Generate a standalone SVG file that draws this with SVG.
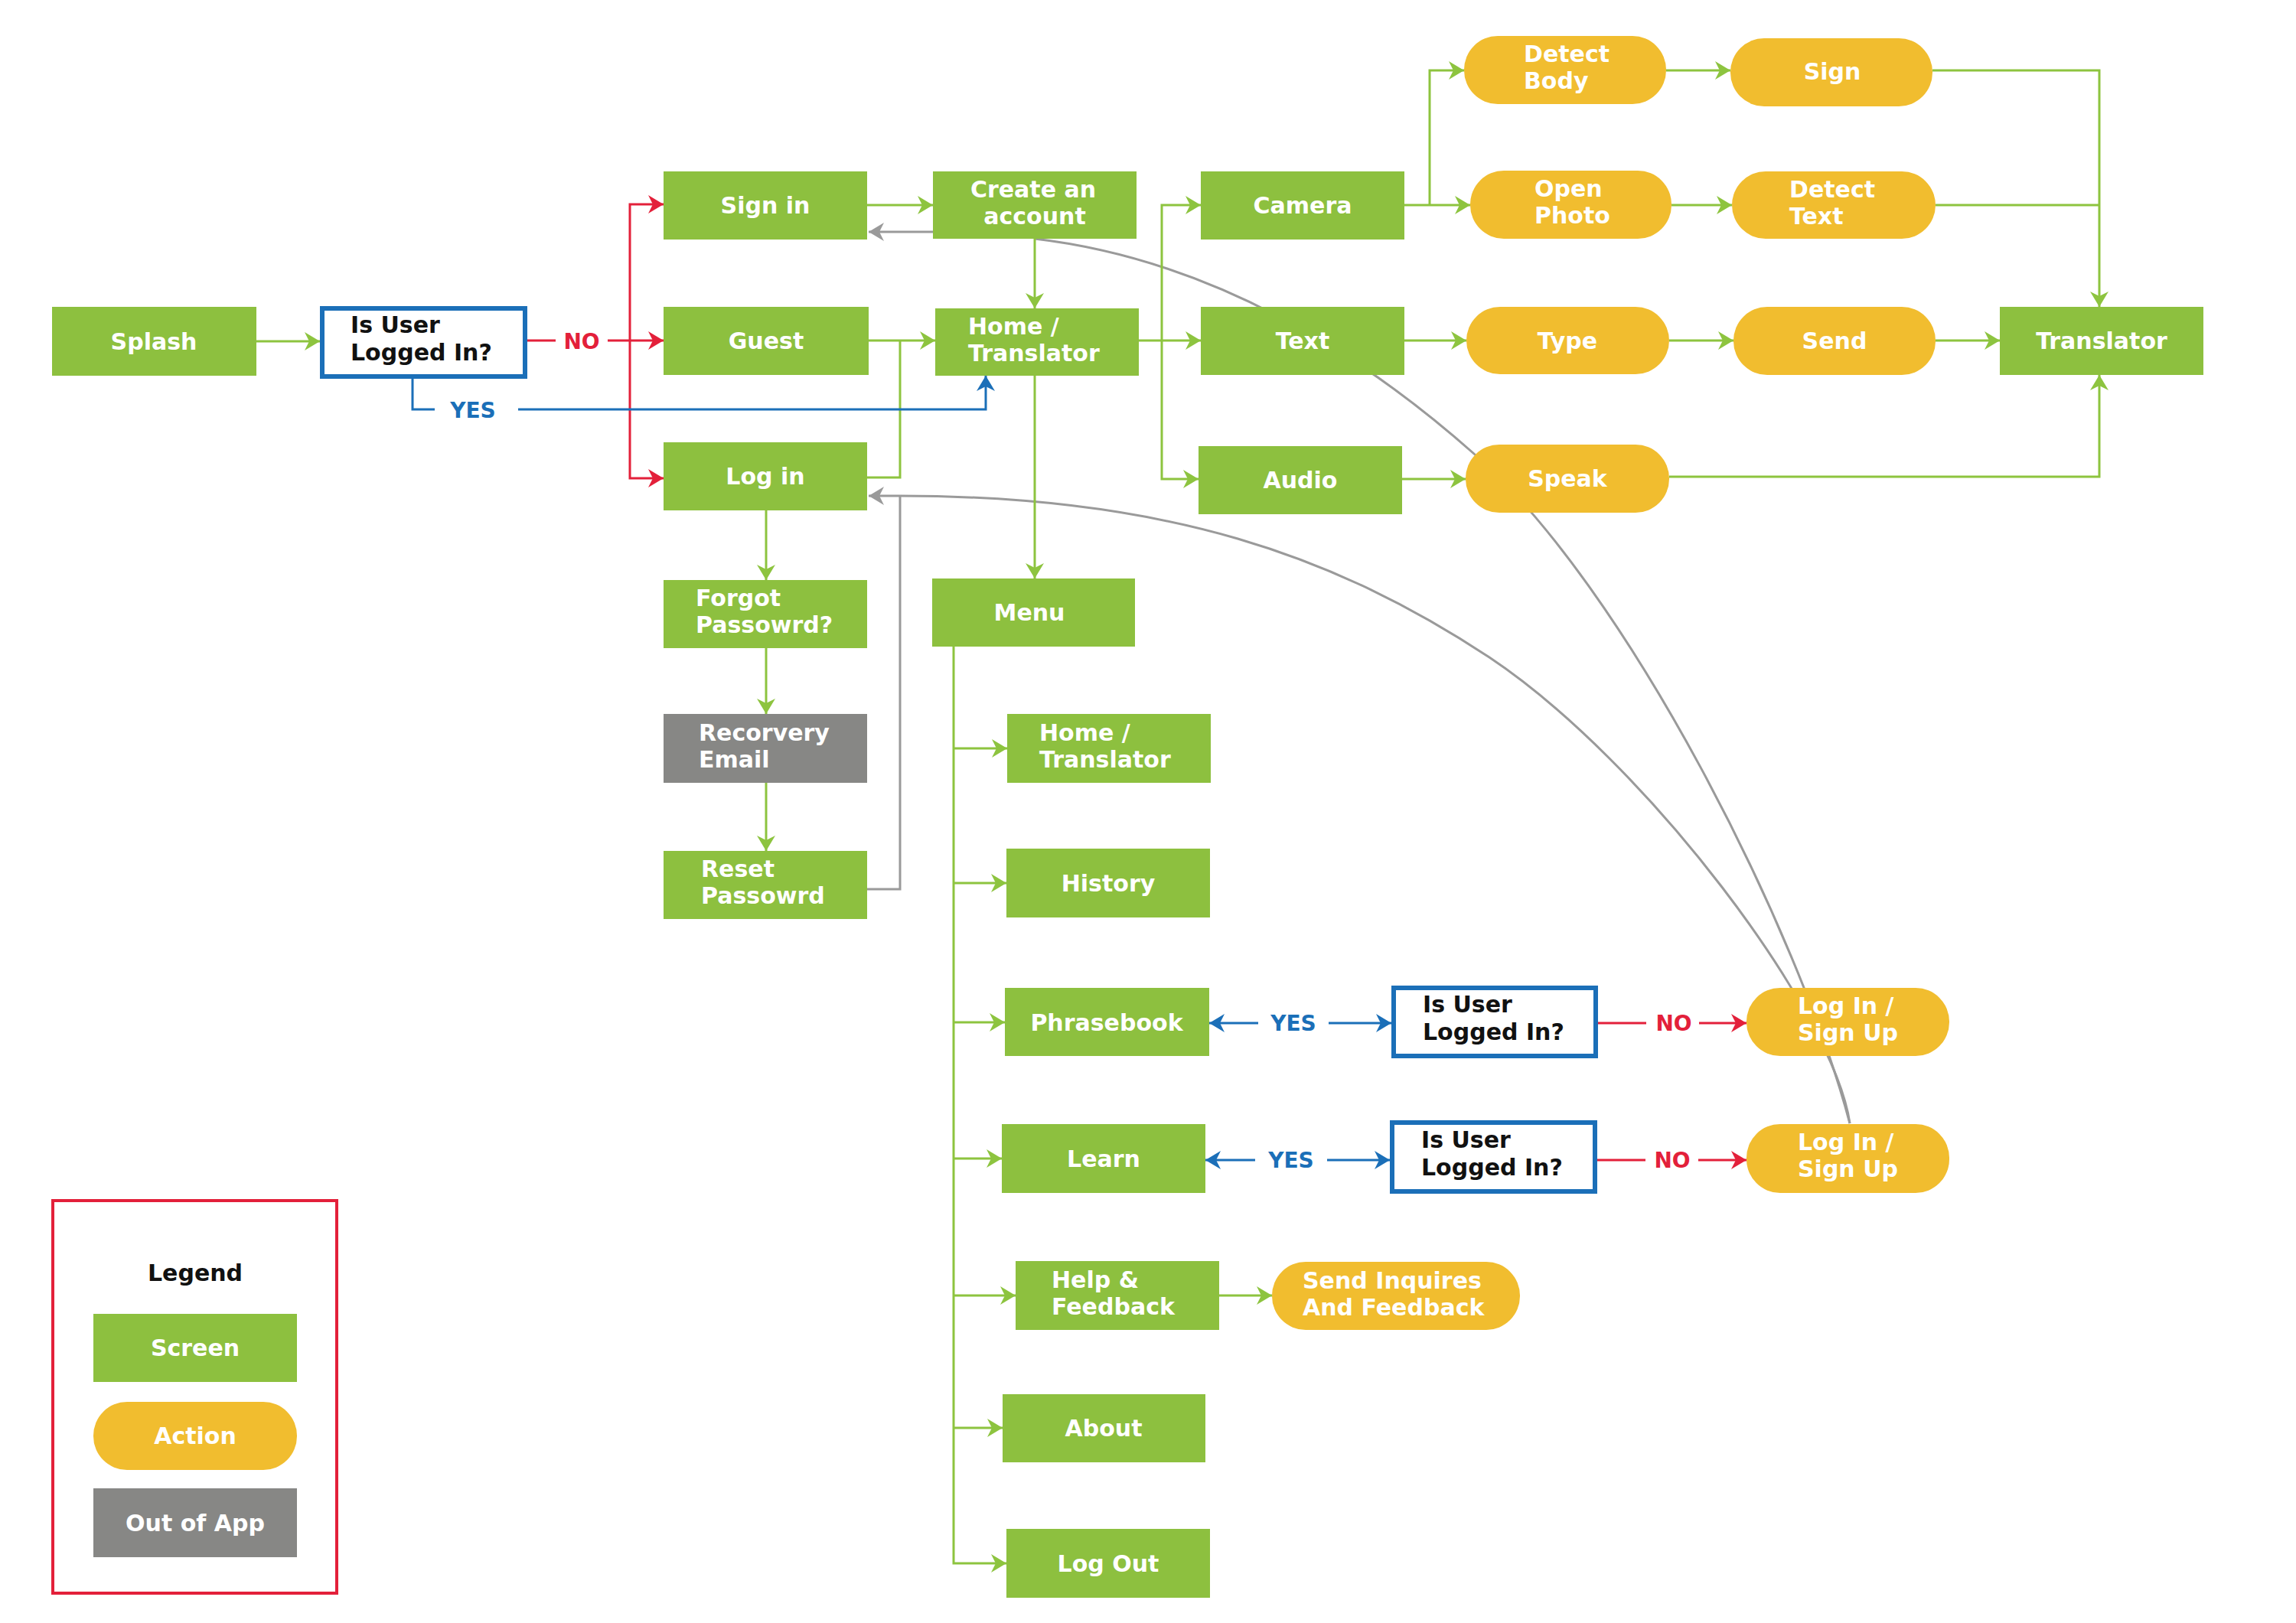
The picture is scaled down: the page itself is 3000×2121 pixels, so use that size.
<svg xmlns="http://www.w3.org/2000/svg" width="3000" height="2121" viewBox="0 0 3000 2121">
<style>
.scr{fill:#8dc03f}
.act{fill:#f1bd2f}
.out{fill:#878785}
.dec{fill:#fff;stroke:#1b6fb8;stroke-width:6}
.t{font-family:"DejaVu Sans","Liberation Sans",sans-serif;font-weight:bold;font-size:30px;fill:#fff}
.m{text-anchor:middle}
.dk{fill:#111}
.lab{font-family:"DejaVu Sans","Liberation Sans",sans-serif;font-weight:bold;font-size:28px;text-anchor:middle}
.g{fill:none;stroke:#8dc43f;stroke-width:3}
.r{fill:none;stroke:#e3203a;stroke-width:3}
.b{fill:none;stroke:#1b6fb8;stroke-width:3}
.y{fill:none;stroke:#9a9a9a;stroke-width:3}
</style>
<defs>
<marker id="ag" markerUnits="userSpaceOnUse" markerWidth="22" markerHeight="24" refX="20" refY="12" orient="auto"><path d="M0,0 L20,12 L0,24 L6,12 Z" fill="#8dc43f"/></marker>
<marker id="ar" markerUnits="userSpaceOnUse" markerWidth="22" markerHeight="24" refX="20" refY="12" orient="auto"><path d="M0,0 L20,12 L0,24 L6,12 Z" fill="#e3203a"/></marker>
<marker id="ab" markerUnits="userSpaceOnUse" markerWidth="22" markerHeight="24" refX="20" refY="12" orient="auto"><path d="M0,0 L20,12 L0,24 L6,12 Z" fill="#1b6fb8"/></marker>
<marker id="ay" markerUnits="userSpaceOnUse" markerWidth="22" markerHeight="24" refX="20" refY="12" orient="auto"><path d="M0,0 L20,12 L0,24 L6,12 Z" fill="#9a9a9a"/></marker>
</defs>
<rect width="3000" height="2121" fill="#fff"/>

<g id="connectors">
<path class="y" d="M1219,303 H1135" marker-end="url(#ay)"/>
<path class="y" d="M1352,312 C1582,339 1776,460 1926,593 C2126,769 2350,1215 2417,1468"/>
<path class="y" d="M2417,1468 C2395,1320 2150,995 1946,859 C1746,727 1526,648 1176,648 H1135" marker-end="url(#ay)"/>
<path class="y" d="M1133,1162 H1176 V648"/>

<path class="g" d="M335,446 H418" marker-end="url(#ag)"/>
<path class="g" d="M1133,268 H1219" marker-end="url(#ag)"/>
<path class="g" d="M1352,312 V403" marker-end="url(#ag)"/>
<path class="g" d="M1135,445 H1222" marker-end="url(#ag)"/>
<path class="g" d="M1133,624 H1176 V445"/>
<path class="g" d="M1488,445 H1569" marker-end="url(#ag)"/>
<path class="g" d="M1518,445 V268 H1569" marker-end="url(#ag)"/>
<path class="g" d="M1518,445 V626 H1566" marker-end="url(#ag)"/>
<path class="g" d="M1835,268 H1921" marker-end="url(#ag)"/>
<path class="g" d="M1868,268 V92 H1913" marker-end="url(#ag)"/>
<path class="g" d="M2177,92 H2261" marker-end="url(#ag)"/>
<path class="g" d="M2184,268 H2263" marker-end="url(#ag)"/>
<path class="g" d="M2525,92 H2743 V401" marker-end="url(#ag)"/>
<path class="g" d="M2529,268 H2743"/>
<path class="g" d="M1835,445 H1916" marker-end="url(#ag)"/>
<path class="g" d="M2181,445 H2265" marker-end="url(#ag)"/>
<path class="g" d="M2529,445 H2613" marker-end="url(#ag)"/>
<path class="g" d="M1832,626 H1915" marker-end="url(#ag)"/>
<path class="g" d="M2181,623 H2743 V490" marker-end="url(#ag)"/>
<path class="g" d="M1352,491 V756" marker-end="url(#ag)"/>
<path class="g" d="M1001,667 V758" marker-end="url(#ag)"/>
<path class="g" d="M1001,847 V933" marker-end="url(#ag)"/>
<path class="g" d="M1001,1023 V1112" marker-end="url(#ag)"/>
<path class="g" d="M1246,845 V2043 H1315" marker-end="url(#ag)"/>
<path class="g" d="M1246,978 H1316" marker-end="url(#ag)"/>
<path class="g" d="M1246,1154 H1315" marker-end="url(#ag)"/>
<path class="g" d="M1246,1336 H1313" marker-end="url(#ag)"/>
<path class="g" d="M1246,1514 H1309" marker-end="url(#ag)"/>
<path class="g" d="M1246,1693 H1327" marker-end="url(#ag)"/>
<path class="g" d="M1246,1866 H1310" marker-end="url(#ag)"/>
<path class="g" d="M1593,1693 H1662" marker-end="url(#ag)"/>

<path class="r" d="M689,445 H726"/>
<path class="r" d="M794,445 H867" marker-end="url(#ar)"/>
<path class="r" d="M823,445 V267 H867" marker-end="url(#ar)"/>
<path class="r" d="M823,445 V625 H867" marker-end="url(#ar)"/>
<path class="r" d="M2088,1337 H2151"/>
<path class="r" d="M2220,1337 H2282" marker-end="url(#ar)"/>
<path class="r" d="M2087,1516 H2150"/>
<path class="r" d="M2219,1516 H2282" marker-end="url(#ar)"/>

<path class="b" d="M539,495 V535 H568"/>
<path class="b" d="M677,535 H1288 V491" marker-end="url(#ab)"/>
<path class="b" d="M1644,1337 H1580" marker-end="url(#ab)"/>
<path class="b" d="M1736,1337 H1818" marker-end="url(#ab)"/>
<path class="b" d="M1640,1516 H1575" marker-end="url(#ab)"/>
<path class="b" d="M1734,1516 H1816" marker-end="url(#ab)"/>

<text class="lab" x="760" y="456" fill="#e3203a">NO</text>
<text class="lab" x="618" y="546" fill="#1b6fb8">YES</text>
<text class="lab" x="1690" y="1347" fill="#1b6fb8">YES</text>
<text class="lab" x="2187" y="1347" fill="#e3203a">NO</text>
<text class="lab" x="1687" y="1526" fill="#1b6fb8">YES</text>
<text class="lab" x="2185" y="1526" fill="#e3203a">NO</text>
</g>

<g id="splash"><rect class="scr" x="68" y="401" width="267" height="90"/><text class="t m" x="201" y="457">Splash</text></g>
<g id="decision1"><rect class="dec" x="421" y="403" width="265" height="89"/><text class="t dk" x="458" y="435">Is User</text><text class="t dk" x="458" y="471">Logged In?</text></g>
<g id="signin"><rect class="scr" x="867" y="224" width="266" height="89"/><text class="t m" x="1000" y="279">Sign in</text></g>
<g id="guest"><rect class="scr" x="867" y="401" width="268" height="89"/><text class="t m" x="1001" y="456">Guest</text></g>
<g id="login"><rect class="scr" x="867" y="578" width="266" height="89"/><text class="t m" x="1000" y="633">Log in</text></g>
<g id="forgot"><rect class="scr" x="867" y="758" width="266" height="89"/><text class="t" x="909" y="792">Forgot</text><text class="t" x="909" y="827">Passowrd?</text></g>
<g id="recovery"><rect class="out" x="867" y="933" width="266" height="90"/><text class="t" x="913" y="968">Recorvery</text><text class="t" x="913" y="1003">Email</text></g>
<g id="reset"><rect class="scr" x="867" y="1112" width="266" height="89"/><text class="t" x="916" y="1146">Reset</text><text class="t" x="916" y="1181">Passowrd</text></g>
<g id="create"><rect class="scr" x="1219" y="224" width="266" height="88"/><text class="t m" x="1350" y="258">Create an</text><text class="t m" x="1352" y="293">account</text></g>
<g id="home1"><rect class="scr" x="1222" y="403" width="266" height="88"/><text class="t" x="1265" y="437">Home /</text><text class="t" x="1265" y="472">Translator</text></g>
<g id="menu"><rect class="scr" x="1218" y="756" width="265" height="89"/><text class="t m" x="1345" y="811">Menu</text></g>
<g id="camera"><rect class="scr" x="1569" y="224" width="266" height="89"/><text class="t m" x="1702" y="279">Camera</text></g>
<g id="text"><rect class="scr" x="1569" y="401" width="266" height="89"/><text class="t m" x="1702" y="456">Text</text></g>
<g id="audio"><rect class="scr" x="1566" y="583" width="266" height="89"/><text class="t m" x="1699" y="638">Audio</text></g>
<g id="translator"><rect class="scr" x="2613" y="401" width="266" height="89"/><text class="t m" x="2746" y="456">Translator</text></g>
<g id="home2"><rect class="scr" x="1316" y="933" width="266" height="90"/><text class="t" x="1358" y="968">Home /</text><text class="t" x="1358" y="1003">Translator</text></g>
<g id="history"><rect class="scr" x="1315" y="1109" width="266" height="90"/><text class="t m" x="1448" y="1165">History</text></g>
<g id="phrasebook"><rect class="scr" x="1313" y="1291" width="267" height="89"/><text class="t m" x="1446" y="1347">Phrasebook</text></g>
<g id="learn"><rect class="scr" x="1309" y="1469" width="266" height="90"/><text class="t m" x="1442" y="1525">Learn</text></g>
<g id="help"><rect class="scr" x="1327" y="1648" width="266" height="90"/><text class="t" x="1374" y="1683">Help &amp;</text><text class="t" x="1374" y="1718">Feedback</text></g>
<g id="about"><rect class="scr" x="1310" y="1822" width="265" height="89"/><text class="t m" x="1442" y="1877">About</text></g>
<g id="logout"><rect class="scr" x="1315" y="1998" width="266" height="90"/><text class="t m" x="1448" y="2054">Log Out</text></g>

<g id="detectbody"><rect class="act" x="1913" y="47" width="264" height="89" rx="44"/><text class="t" x="1991" y="81">Detect</text><text class="t" x="1991" y="116">Body</text></g>
<g id="sign"><rect class="act" x="2261" y="50" width="264" height="89" rx="44"/><text class="t m" x="2394" y="104">Sign</text></g>
<g id="openphoto"><rect class="act" x="1921" y="223" width="263" height="89" rx="44"/><text class="t" x="2005" y="257">Open</text><text class="t" x="2005" y="292">Photo</text></g>
<g id="detecttext"><rect class="act" x="2263" y="224" width="266" height="88" rx="44"/><text class="t" x="2338" y="258">Detect</text><text class="t" x="2338" y="293">Text</text></g>
<g id="type"><rect class="act" x="1916" y="401" width="265" height="88" rx="44"/><text class="t m" x="2048" y="456">Type</text></g>
<g id="send"><rect class="act" x="2265" y="401" width="264" height="89" rx="44"/><text class="t m" x="2397" y="456">Send</text></g>
<g id="speak"><rect class="act" x="1915" y="581" width="266" height="89" rx="44"/><text class="t m" x="2048" y="636">Speak</text></g>

<g id="decision2"><rect class="dec" x="1821" y="1291" width="264" height="89"/><text class="t dk" x="1859" y="1323">Is User</text><text class="t dk" x="1859" y="1359">Logged In?</text></g>
<g id="decision3"><rect class="dec" x="1819" y="1467" width="265" height="90"/><text class="t dk" x="1857" y="1500">Is User</text><text class="t dk" x="1857" y="1536">Logged In?</text></g>
<g id="loginsignup1"><rect class="act" x="2282" y="1291" width="265" height="89" rx="44"/><text class="t" x="2349" y="1325">Log In /</text><text class="t" x="2349" y="1360">Sign Up</text></g>
<g id="loginsignup2"><rect class="act" x="2282" y="1469" width="265" height="90" rx="44"/><text class="t" x="2349" y="1503">Log In /</text><text class="t" x="2349" y="1538">Sign Up</text></g>
<g id="sendinquires"><rect class="act" x="1662" y="1649" width="324" height="89" rx="44"/><text class="t" x="1702" y="1684">Send Inquires</text><text class="t" x="1702" y="1719">And Feedback</text></g>

<g id="legend">
<rect x="69" y="1569" width="371" height="513" fill="none" stroke="#e3203a" stroke-width="4"/>
<text class="t m dk" x="255" y="1674">Legend</text>
<rect class="scr" x="122" y="1717" width="266" height="89"/><text class="t m" x="255" y="1772">Screen</text>
<rect class="act" x="122" y="1832" width="266" height="89" rx="44"/><text class="t m" x="255" y="1887">Action</text>
<rect class="out" x="122" y="1945" width="266" height="90"/><text class="t m" x="255" y="2001">Out of App</text>
</g>
</svg>
